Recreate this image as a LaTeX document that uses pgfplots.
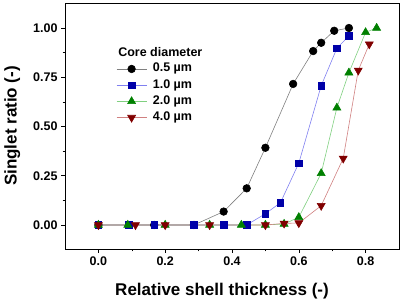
\documentclass[border=0pt]{standalone}
\usepackage{pgfplots}
\pgfplotsset{compat=1.18}
\usetikzlibrary{calc}
\usepackage{fontspec}
\setmainfont{Liberation Sans}
\definecolor{c1line}{HTML}{808080}
\definecolor{c2mark}{HTML}{0000A8}
\definecolor{c2line}{HTML}{8080F0}
\definecolor{c3mark}{HTML}{008000}
\definecolor{c3line}{HTML}{80D080}
\definecolor{c4mark}{HTML}{800000}
\definecolor{c4line}{HTML}{D08080}
\begin{document}
\begin{tikzpicture}
\begin{axis}[
  scale only axis, width=334pt, height=246pt,
  xmin=-0.1, xmax=0.9, ymin=-0.122, ymax=1.127,
  xtick={0,0.2,0.4,0.6,0.8}, minor xtick={0.1,0.3,0.5,0.7},
  ytick={0,0.25,0.5,0.75,1}, minor ytick={0.125,0.375,0.625,0.875},
  tick align=outside, xtick pos=bottom, ytick pos=left,
  major tick length=4pt, minor tick length=2.5pt,
  tick style={black, line width=0.6pt},
  axis line style={line width=0.8pt},
  /pgf/number format/assume math mode=true,
  xticklabel style={/pgf/number format/fixed, /pgf/number format/fixed zerofill, /pgf/number format/precision=1, font=\fontsize{12.5}{13}\selectfont\bfseries},
  yticklabel style={/pgf/number format/fixed, /pgf/number format/fixed zerofill, /pgf/number format/precision=2, font=\fontsize{12.5}{13}\selectfont\bfseries},
  xlabel={Relative shell thickness (-)},
  ylabel={Singlet ratio (-)},
  label style={font=\fontsize{17}{19}\selectfont\bfseries},
  xlabel style={yshift=-11pt, xshift=-10pt},
  ylabel style={yshift=6pt},
  legend style={draw=none, fill=none, at={(axis description cs:0.153,0.757)}, anchor=north west, font=\fontsize{12.5}{13}\selectfont\bfseries, row sep=4.2pt, column sep=6pt, inner sep=0pt, nodes={inner sep=0pt, text height=9pt, text depth=3pt}},
  legend cell align=left,
  legend image code/.code={\draw[mark repeat=2,mark phase=2] plot coordinates {(0pt,0pt) (15pt,0pt) (30pt,0pt)};},
]
\addplot[c1line, line width=0.6pt, mark=*, mark size=3.8pt, mark options={draw=black, fill=black}] coordinates {
(0,0) (0.167,0) (0.286,0) (0.375,0.068) (0.444,0.186) (0.5,0.392) (0.583,0.716) (0.643,0.883) (0.667,0.925) (0.706,0.986) (0.75,1.0)};
\addlegendentry{0.5 µm}
\addplot[c2line, line width=0.6pt, mark=square*, mark size=3.3pt, mark options={draw=c2mark, fill=c2mark}] coordinates {
(0,0) (0.091,0) (0.167,0) (0.286,0) (0.375,0) (0.444,0) (0.5,0.057) (0.545,0.113) (0.6,0.314) (0.667,0.707) (0.714,0.897) (0.75,0.96)};
\addlegendentry{1.0 µm}
\addplot[c3line, line width=0.6pt, mark=triangle*, mark size=4.6pt, mark options={draw=c3mark, fill=c3mark}] coordinates {
(0,0) (0.088,0) (0.2,0) (0.333,0) (0.428,0) (0.5,0) (0.556,0.005) (0.6,0.039) (0.667,0.262) (0.714,0.595) (0.75,0.773) (0.8,0.978) (0.833,1.0)};
\addlegendentry{2.0 µm}
\addplot[c4line, line width=0.6pt, mark=triangle*, mark size=4.6pt, mark options={draw=c4mark, fill=c4mark, rotate=180}] coordinates {
(0,0) (0.111,0) (0.2,0) (0.333,0) (0.5,0) (0.556,0.008) (0.6,0.01) (0.667,0.098) (0.733,0.338) (0.778,0.785) (0.811,0.918)};
\addlegendentry{4.0 µm}
\node[anchor=north west, inner sep=0pt, font=\fontsize{12.5}{13}\selectfont\bfseries] at (axis description cs:0.159,0.821) {Core diameter};
\end{axis}
\pgfresetboundingbox
\path ($(current axis.south west)+(-65pt,-55pt)$) rectangle ($(current axis.north east)+(4pt,3pt)$);
\end{tikzpicture}
\end{document}
